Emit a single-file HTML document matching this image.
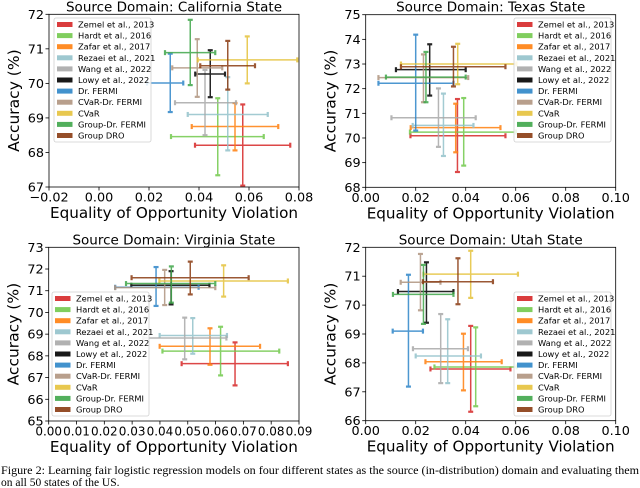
<!DOCTYPE html>
<html><head><meta charset="utf-8"><style>
html,body{margin:0;padding:0;background:#fff;width:640px;height:488px;overflow:hidden}
svg{display:block;font-family:"DejaVu Sans","Liberation Sans",sans-serif}
</style></head><body>
<svg id="fig" width="640" height="488" viewBox="0 0 640 488" xmlns="http://www.w3.org/2000/svg">
<text x="1" y="474" font-family="Liberation Serif, serif" font-size="11.5" textLength="638" lengthAdjust="spacingAndGlyphs">Figure 2: Learning fair logistic regression models on four different states as the source (in-distribution) domain and evaluating them</text>
<text x="1" y="486" font-family="Liberation Serif, serif" font-size="11.5">on all 50 states of the US.</text>
</svg>
<script>
const methods = ["Zemel et al., 2013","Hardt et al., 2016","Zafar et al., 2017","Rezaei et al., 2021","Wang et al., 2022","Lowy et al., 2022","Dr. FERMI","CVaR-Dr. FERMI","CVaR","Group-Dr. FERMI","Group DRO"];
const colors = ["#d62728","#72c94c","#ff7f0e","#93c2cb","#a9a9a9","#000000","#2e86c8","#b09580","#e5c23c","#3fa64a","#8a3b12"];

// California
const caX   = [0.0575,0.0475,0.0544,0.0515,0.0424,0.0445,0.0285,0.0393,0.0593,0.0365,0.0515];
const caXlo = [0.0384,0.0288,0.0371,0.0355,0.0304,0.0385,0.0192,0.0293,0.0395,0.0264,0.0405];
const caXhi = [0.0765,0.0659,0.0717,0.0675,0.0548,0.0504,0.0337,0.0493,0.0793,0.0465,0.0624];
const caY   = [68.21,68.46,68.75,69.10,69.44,70.27,70.01,70.45,70.68,70.89,70.51];
const caYlo = [67.04,67.34,68.06,68.06,68.50,69.60,69.17,69.61,70.00,69.95,69.82];
const caYhi = [69.39,69.57,69.43,70.18,70.39,70.96,70.86,71.28,71.36,71.84,71.23];
// Texas
const txX   = [0.0367,0.0392,0.0360,0.0311,0.0291,0.0256,0.0200,0.0231,0.0368,0.0241,0.0351];
const txXlo = [0.0179,0.0177,0.0180,0.0188,0.0103,0.0121,0.0051,0.0051,0.0141,0.0081,0.0141];
const txXhi = [0.0559,0.0601,0.0539,0.0431,0.0440,0.0400,0.0351,0.0410,0.0603,0.0400,0.0559];
const txY   = [70.09,70.24,70.42,70.51,70.82,72.77,72.22,72.45,73.00,72.47,72.89];
const txYlo = [68.62,68.88,69.42,69.27,69.64,71.72,70.30,71.45,72.18,71.45,72.09];
const txYhi = [71.58,71.62,71.39,71.80,72.01,73.80,74.19,73.39,73.82,73.49,73.70];
// Virginia
const vaX   = [0.0670,0.0618,0.0580,0.0518,0.0489,0.0440,0.0386,0.0417,0.0629,0.0441,0.0509];
const vaXlo = [0.0478,0.0409,0.0399,0.0399,0.0340,0.0297,0.0239,0.0239,0.0398,0.0278,0.0298];
const vaXhi = [0.0860,0.0829,0.0760,0.0641,0.0639,0.0578,0.0539,0.0599,0.0860,0.0599,0.0719];
const vaY   = [67.64,68.22,68.44,68.94,68.82,71.25,71.16,71.14,71.45,71.33,71.60];
const vaYlo = [66.64,67.10,67.59,68.10,67.84,70.37,70.30,70.34,70.73,70.45,70.83];
const vaYhi = [68.62,69.34,69.27,69.74,69.76,71.90,72.09,71.96,72.17,72.12,72.34];
// Utah
const utX   = [0.0420,0.0440,0.0391,0.0328,0.0300,0.0243,0.0171,0.0219,0.0420,0.0231,0.0369];
const utXlo = [0.0259,0.0275,0.0239,0.0200,0.0189,0.0129,0.0108,0.0140,0.0231,0.0109,0.0229];
const utXhi = [0.0579,0.0604,0.0544,0.0461,0.0409,0.0351,0.0229,0.0299,0.0609,0.0351,0.0509];
const utY   = [67.79,67.86,68.04,68.24,68.49,70.47,69.10,70.79,71.07,70.37,70.81];
const utYlo = [66.31,66.50,67.05,67.30,67.30,69.39,67.18,69.82,70.25,69.35,70.03];
const utYhi = [69.28,69.23,69.01,69.51,69.69,71.48,71.05,71.77,71.88,71.39,71.62];

const caXTicks = [-0.02,0,0.02,0.04,0.06,0.08], caYTicks=[67,68,69,70,71,72];
const txXTicks = [0,0.02,0.04,0.06,0.08,0.10], txYTicks=[68,69,70,71,72,73,74,75];
const vaXTicks = [0,0.01,0.02,0.03,0.04,0.05,0.06,0.07,0.08,0.09], vaYTicks=[65,66,67,68,69,70,71,72,73];
const utXTicks = [0,0.02,0.04,0.06,0.08,0.10], utYTicks=[66,67,68,69,70,71,72];

const NS="http://www.w3.org/2000/svg";
const svg=document.getElementById('fig');
function mk(tag,attrs,parent){const e=document.createElementNS(NS,tag);for(const k in attrs)e.setAttribute(k,attrs[k]);(parent||svg).appendChild(e);return e;}
function fmtX(v,dec){const s=Math.abs(v).toFixed(dec);return (v<-1e-9?"\u2212":"")+s;}

const panels=[
 {key:"california",title:"Source Domain: California State",L:49,R:299,T:14.3,B:187,x0:-0.02,x1:0.08,y0:67,y1:72,xt:caXTicks,yt:caYTicks,dec:2,X:caX,Xlo:caXlo,Xhi:caXhi,Y:caY,Ylo:caYlo,Yhi:caYhi,leg:[54,18]},
 {key:"texas",title:"Source Domain: Texas State",L:365.7,R:615.7,T:14.7,B:187.3,x0:0,x1:0.1,y0:68,y1:75,xt:txXTicks,yt:txYTicks,dec:2,X:txX,Xlo:txXlo,Xhi:txXhi,Y:txY,Ylo:txYlo,Yhi:txYhi,leg:[514,18]},
 {key:"virginia",title:"Source Domain: Virginia State",L:48.7,R:299,T:247.3,B:421,x0:0,x1:0.09,y0:65,y1:73,xt:vaXTicks,yt:vaYTicks,dec:2,X:vaX,Xlo:vaXlo,Xhi:vaXhi,Y:vaY,Ylo:vaYlo,Yhi:vaYhi,leg:[52,292]},
 {key:"utah",title:"Source Domain: Utah State",L:365.7,R:615.7,T:247.3,B:420.7,x0:0,x1:0.1,y0:66,y1:72,xt:utXTicks,yt:utYTicks,dec:2,X:utX,Xlo:utXlo,Xhi:utXhi,Y:utY,Ylo:utYlo,Yhi:utYhi,leg:[514,292]}
];

panels.forEach(p=>{
 const g=mk('g',{});
 
 
 const sx=v=>p.L+(v-p.x0)/(p.x1-p.x0)*(p.R-p.L);
 const sy=v=>p.B-(v-p.y0)/(p.y1-p.y0)*(p.B-p.T);
 const t=mk('text',{x:(p.L+p.R)/2,y:p.T-3,'text-anchor':'middle','font-size':13.5},g);t.textContent=p.title;
 
 
 const tfs = p.xt.length>8 ? 12 : 12.8;
 p.xt.forEach(v=>{const x=sx(v);mk('line',{x1:x,x2:x,y1:p.B,y2:p.B+3.5,stroke:'#000','stroke-width':0.8},g);
  const l=mk('text',{x:x,y:p.B+14.5,'text-anchor':'middle','font-size':tfs},g);l.textContent=fmtX(v,p.dec);
  
  });
 p.yt.forEach(v=>{const y=sy(v);mk('line',{x1:p.L-3.5,x2:p.L,y1:y,y2:y,stroke:'#000','stroke-width':0.8},g);
  const l=mk('text',{x:p.L-5,y:y+4.5,'text-anchor':'end','font-size':12.8},g);l.textContent=String(v);
  
  });
 const xl=mk('text',{x:(p.L+p.R)/2,y:p.B+31,'text-anchor':'middle','font-size':15.2},g);xl.textContent="Equality of Opportunity Violation";
 
 
 const cy=(p.T+p.B)/2, yx=p.L-30;
 const yl=mk('text',{x:yx,y:cy,'text-anchor':'middle','font-size':15.5,transform:`rotate(-90 ${yx} ${cy})`},g);yl.textContent="Accuracy (%)";
 
 
 methods.forEach((m,i)=>{
  const e=mk('g',{stroke:colors[i],'stroke-width':1.5,opacity:0.85},g);
  
  
  const x=sx(p.X[i]),y=sy(p.Y[i]),xa=sx(p.Xlo[i]),xb=sx(p.Xhi[i]),ya=sy(p.Ylo[i]),yb=sy(p.Yhi[i]);
  mk('line',{x1:xa,x2:xb,y1:y,y2:y},e);
  mk('line',{x1:x,x2:x,y1:ya,y2:yb},e);
  mk('line',{x1:xa,x2:xa,y1:y-2.5,y2:y+2.5,'stroke-width':2.2},e);
  mk('line',{x1:xb,x2:xb,y1:y-2.5,y2:y+2.5,'stroke-width':2.2},e);
  mk('line',{x1:x-2.5,x2:x+2.5,y1:ya,y2:ya,'stroke-width':2.2},e);
  mk('line',{x1:x-2.5,x2:x+2.5,y1:yb,y2:yb,'stroke-width':2.2},e);
 });
 const fr=mk('rect',{x:p.L,y:p.T,width:p.R-p.L,height:p.B-p.T,fill:'none',stroke:'#000','stroke-width':0.8},g);
 
 
 const lg=mk('g',{},g);
 
 
 const [lx,ly]=p.leg;
 mk('rect',{x:lx,y:ly,width:97,height:124,rx:2,fill:'#fff','fill-opacity':0.85,stroke:'#d0d0d0','stroke-width':0.8},lg);
 methods.forEach((m,i)=>{
  const yy=ly+6.5+i*11.1;
  const it=mk('g',{},lg);
  
  
  mk('rect',{x:lx+3,y:yy-2.5,width:15.5,height:5,fill:colors[i],opacity:0.9},it);
  const tx=mk('text',{x:lx+24,y:yy+3,'font-size':8.3},it);tx.textContent=m;
 });
});
</script>
</body></html>
